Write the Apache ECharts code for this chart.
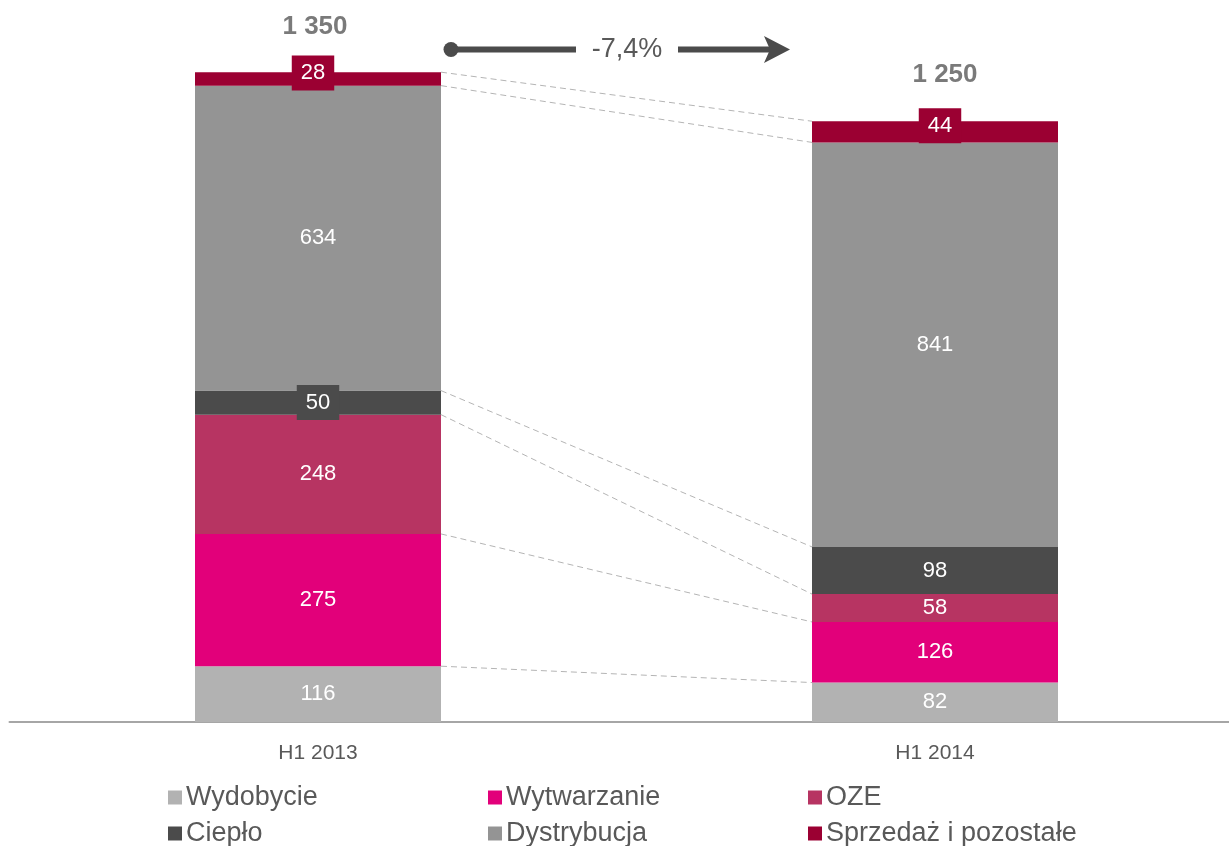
<!DOCTYPE html>
<html>
<head>
<meta charset="utf-8">
<script src="https://cdn.jsdelivr.net/npm/echarts@6/dist/echarts.min.js"></script>
<style>
html,body{margin:0;padding:0;background:#fff;}
#main{width:1229px;height:846px;}
</style>
</head>
<body>
<div id="main"></div>
<script>
// dane wykresu
var categories = ['H1 2013', 'H1 2014'];
var wydobycie = [116, 82];
var wytwarzanie = [275, 126];
var oze = [248, 58];
var cieplo = [50, 98];
var dystrybucja = [634, 841];
var sprzedaz = [28, 44];
var totals = [1350, 1250];

var seriesNames = ['Wydobycie', 'Wytwarzanie', 'OZE', 'Ciepło', 'Dystrybucja', 'Sprzedaż i pozostałe'];
var seriesData = [wydobycie, wytwarzanie, oze, cieplo, dystrybucja, sprzedaz];
var colors = ['#b2b2b2', '#e2007a', '#b73462', '#4b4b4b', '#949494', '#9b0032'];

var FONT = "'Liberation Sans', Arial, sans-serif";
var TEXT = '#595959';
var BAR_W = 246;

function fmtNum(v){
	return String(v).replace(/\B(?=(\d{3})+(?!\d))/g, ' ');
}

var chart = echarts.init(document.getElementById('main'));

// serie słupkowe
var series = [];
for (var s = 0; s < seriesData.length; s++) {
	(function(s){
		var items = [];
		for (var i = 0; i < seriesData[s].length; i++) {
			var v = seriesData[s][i];
			var it = {value: v};
			if (v <= 50) {
				it.label = {
					backgroundColor: colors[s],
					padding: [7, 9, 6, 9]
				};
				if (s == seriesData.length - 1) {
					it.label.offset = [i == 0 ? -5 : 5, -6];
				}
			}
			items.push(it);
		}
		series.push({
			name: seriesNames[s],
			type: 'bar',
			stack: 'total',
			barWidth: BAR_W,
			itemStyle: {color: colors[s]},
			label: {
				show: true,
				position: 'inside',
				color: '#fff',
				fontFamily: FONT,
				fontSize: 22
			},
			emphasis: {disabled: true},
			data: items
		});
	})(s);
}

// linie łączące granice segmentów
var links = [];
var cumL = 0, cumR = 0;
for (var s = 0; s < seriesData.length; s++) {
	cumL += seriesData[s][0];
	cumR += seriesData[s][1];
	links.push([0, cumL, cumR]);
}
series.push({
	type: 'custom',
	silent: true,
	data: links,
	renderItem: function(params, api){
		var p0 = api.coord([0, api.value(1)]);
		var p1 = api.coord([1, api.value(2)]);
		return {
			type: 'line',
			shape: {x1: p0[0] + BAR_W / 2, y1: p0[1], x2: p1[0] - BAR_W / 2, y2: p1[1]},
			style: {stroke: '#b4b4b4', lineWidth: 1, lineDash: [6, 4]}
		};
	}
});

// sumy nad słupkami
var totalPoints = [];
var totalOffsets = [[-3, 0], [10, 0]];
for (var i = 0; i < totals.length; i++) {
	totalPoints.push({value: [i, totals[i]], label: {offset: totalOffsets[i]}});
}
series.push({
	type: 'scatter',
	symbolSize: 0,
	silent: true,
	data: totalPoints,
	label: {
		show: true,
		position: 'top',
		distance: 33,
		color: TEXT,
		fontFamily: FONT,
		fontSize: 26,
		fontWeight: 'bold',
		formatter: function(p){ return fmtNum(p.value[1]); }
	}
});

// legenda - osobny komponent dla każdej pozycji
var legendLeft = [168, 488, 808];
var legendTop = [784, 820];
var legends = [];
for (var k = 0; k < seriesNames.length; k++) {
	legends.push({
		data: [seriesNames[k]],
		left: legendLeft[k % 3],
		top: legendTop[Math.floor(k / 3)],
		padding: 0,
		itemWidth: 14,
		itemHeight: 14,
		icon: 'rect',
		selectedMode: false,
		textStyle: {color: TEXT, fontFamily: FONT, fontSize: 27, padding: [0, 0, 0, -1]}
	});
}

var change = (totals[1] - totals[0]) / totals[0] * 100;
var changeText = change.toFixed(1).replace('.', ',') + '%';

var option = {
	animation: false,
	grid: {left: 9.5, width: 1234, top: 48.6, bottom: 124, outerBoundsMode: 'none', containLabel: false},
	xAxis: {
		type: 'category',
		data: categories,
		axisLine: {lineStyle: {color: '#a6a6a6', width: 2}},
		axisTick: {show: false},
		axisLabel: {color: TEXT, fontFamily: FONT, fontSize: 21, margin: 21}
	},
	yAxis: {
		type: 'value',
		min: 0,
		max: 1400,
		show: false
	},
	legend: legends,
	graphic: [
		{type: 'circle', shape: {cx: 451, cy: 49.5, r: 7.5}, style: {fill: '#4b4b4b'}},
		{type: 'line', shape: {x1: 451, y1: 49.5, x2: 576, y2: 49.5}, style: {stroke: '#4b4b4b', lineWidth: 6}},
		{type: 'text', x: 627, y: 49.5, style: {text: changeText, fill: TEXT, font: '27px ' + FONT, align: 'center', verticalAlign: 'middle'}},
		{type: 'line', shape: {x1: 678, y1: 49.5, x2: 772, y2: 49.5}, style: {stroke: '#4b4b4b', lineWidth: 6}},
		{type: 'polygon', shape: {points: [[764, 36], [790, 49.5], [764, 63], [770, 49.5]]}, style: {fill: '#4b4b4b'}}
	],
	series: series
};
chart.setOption(option);
</script>
</body>
</html>
